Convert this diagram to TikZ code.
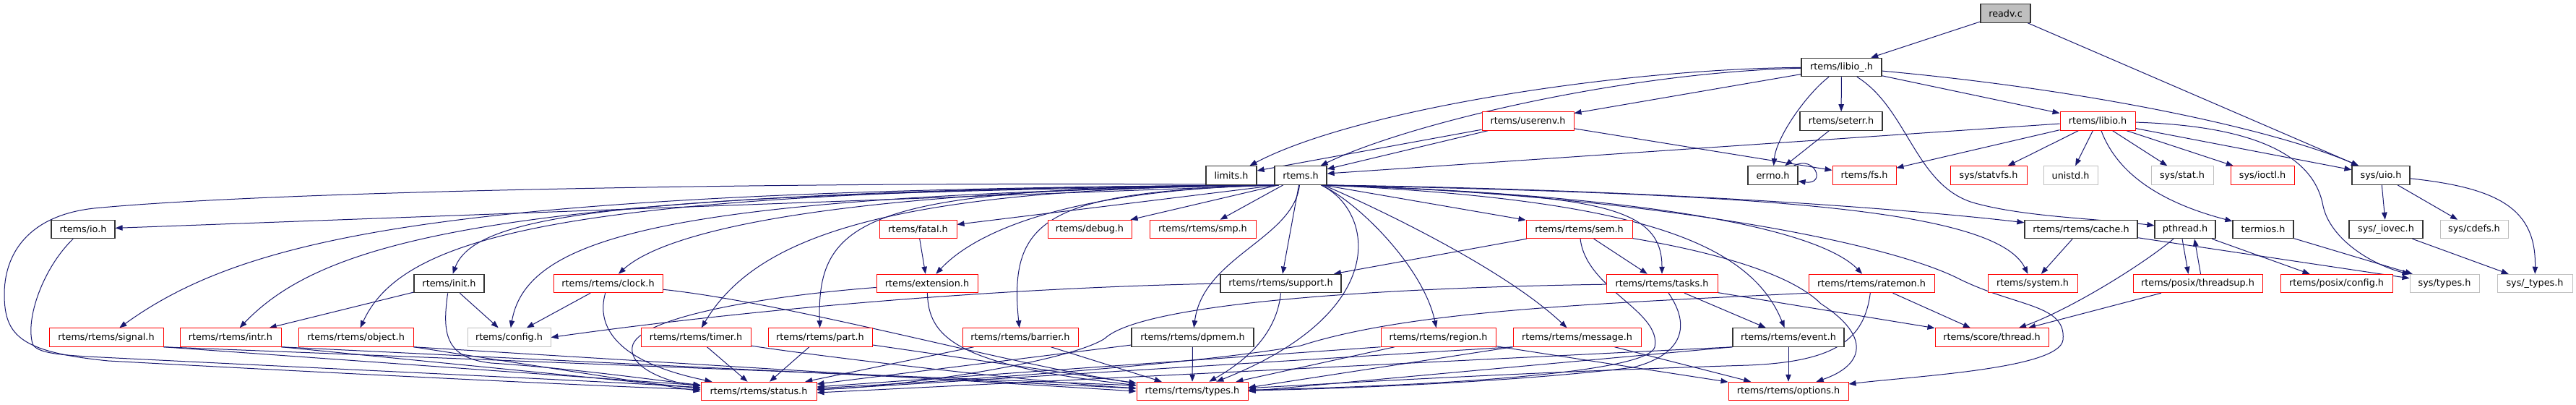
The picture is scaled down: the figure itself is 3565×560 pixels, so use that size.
\documentclass[tikz,border=0pt]{standalone}
\usepackage{fontspec}
\setmainfont{DejaVu Sans}
\usetikzlibrary{arrows.meta,calc}
\pgfdeclarelayer{bg}
\pgfsetlayers{bg,main}
\definecolor{midblue}{RGB}{25,25,112}
\tikzset{
  box/.style={rectangle, draw, fill=white, inner sep=0pt, minimum height=19.1pt,
              font=\fontsize{9.6pt}{11pt}\selectfont, text=black, line width=0.75pt},
  bk/.style={box, draw=black!80, line width=0.9pt},
  rd/.style={box, draw=red},
  gy/.style={box, draw=black!25},
  wd/.style={minimum width=#1*0.75pt},
  dep/.style={draw=midblue, line width=0.75pt, -{Triangle[length=7.5pt,width=5.6pt]}, fill=none},
}
\begin{document}
\begin{tikzpicture}[x=0.75pt, y=-0.75pt]
\useasboundingbox (0,0) rectangle (3565,560);
% row 0-2
\node[bk, fill=black!25, wd=69] (readv) at (2775.5,18.5) {readv.c};
\node[bk, wd=111] (libioU) at (2548.5,93) {rtems/libio\_.h};
\node[rd, wd=127] (userenv) at (2114.5,167.5) {rtems/userenv.h};
\node[bk, wd=114] (seterr) at (2548,167.5) {rtems/seterr.h};
\node[rd, wd=104] (libio) at (2903,167.5) {rtems/libio.h};
% row 3
\node[bk, wd=70] (limits) at (1704,242.5) {limits.h};
\node[bk, wd=72] (rtems) at (1800,242.5) {rtems.h};
\node[bk, wd=69] (errno) at (2453.5,242.5) {errno.h};
\node[rd, wd=88] (fs) at (2580,242.5) {rtems/fs.h};
\node[rd, wd=106] (statvfs) at (2752,242.5) {sys/statvfs.h};
\node[gy, wd=75] (unistd) at (2865.5,242.5) {unistd.h};
\node[gy, wd=86] (stat) at (3020,242.5) {sys/stat.h};
\node[rd, wd=88] (ioctl) at (3131,242.5) {sys/ioctl.h};
\node[bk, wd=80] (uio) at (3295,242.5) {sys/uio.h};
% row 4
\node[bk, wd=88] (io) at (115,317) {rtems/io.h};
\node[rd, wd=107] (fatal) at (1270.5,317) {rtems/fatal.h};
\node[rd, wd=116] (debug) at (1508,317) {rtems/debug.h};
\node[rd, wd=147] (smp) at (1664.5,317) {rtems/rtems/smp.h};
\node[rd, wd=147] (sem) at (2185.5,317) {rtems/rtems/sem.h};
\node[bk, wd=156] (cache) at (2880,317) {rtems/rtems/cache.h};
\node[bk, wd=84] (pthread) at (3024,317) {pthread.h};
\node[bk, wd=84] (termios) at (3132,317) {termios.h};
\node[bk, wd=102] (iovec) at (3302,317) {sys/\_iovec.h};
\node[gy, wd=94] (cdefs) at (3424,317) {sys/cdefs.h};
% row 5
\node[bk, wd=97] (init) at (621.5,392) {rtems/init.h};
\node[rd, wd=151] (clock) at (841.5,392) {rtems/rtems/clock.h};
\node[rd, wd=140] (extension) at (1283,392) {rtems/extension.h};
\node[bk, wd=167] (support) at (1772.5,392) {rtems/rtems/support.h};
\node[rd, wd=154] (tasks) at (2300,392) {rtems/rtems/tasks.h};
\node[rd, wd=174] (ratemon) at (2590,392) {rtems/rtems/ratemon.h};
\node[rd, wd=124] (system) at (2813,392) {rtems/system.h};
\node[rd, wd=179] (threadsup) at (3041.5,392) {rtems/posix/threadsup.h};
\node[rd, wd=155] (pconfig) at (3233.5,392) {rtems/posix/config.h};
\node[gy, wd=96] (systypes) at (3383,392) {sys/types.h};
\node[gy, wd=104] (sysUtypes) at (3508,392) {sys/\_types.h};
% row 6
\node[rd, wd=158] (signal) at (147,466.5) {rtems/rtems/signal.h};
\node[rd, wd=140] (intr) at (319,466.5) {rtems/rtems/intr.h};
\node[rd, wd=159] (object) at (492.5,466.5) {rtems/rtems/object.h};
\node[gy, wd=115] (config) at (704.5,466.5) {rtems/config.h};
\node[rd, wd=152] (timer) at (963,466.5) {rtems/rtems/timer.h};
\node[rd, wd=144] (part) at (1135,466.5) {rtems/rtems/part.h};
\node[rd, wd=160] (barrier) at (1412,466.5) {rtems/rtems/barrier.h};
\node[bk, wd=169] (dpmem) at (1650.5,466.5) {rtems/rtems/dpmem.h};
\node[rd, wd=159] (region) at (1990.5,466.5) {rtems/rtems/region.h};
\node[rd, wd=177] (message) at (2182.5,466.5) {rtems/rtems/message.h};
\node[bk, wd=154] (event) at (2475,466.5) {rtems/rtems/event.h};
\node[rd, wd=157] (thread) at (2756.5,466.5) {rtems/score/thread.h};
% row 7
\node[rd, wd=160] (status) at (1050,541) {rtems/rtems/status.h};
\node[rd, wd=154] (types) at (1650,541) {rtems/rtems/types.h};
\node[rd, wd=166] (options) at (2475,541) {rtems/rtems/options.h};

\coordinate (rsw) at ($(rtems.south west)+(6,0)$);
\coordinate (rse) at ($(rtems.south east)+(-6,0)$);

\begin{pgfonlayer}{bg}
\fill[white] (0,0) rectangle (3565,560);
% readv.c
\draw[dep] (readv) -- (libioU);
\draw[dep] (readv) -- (uio);
% rtems/libio_.h
\draw[dep] (libioU) .. controls (2250,95) and (1880,150) .. (limits);
\draw[dep] (libioU) .. controls (2250,100) and (1950,170) .. (rtems);
\draw[dep] (libioU) -- (userenv);
\draw[dep] (libioU) .. controls (2500,130) and (2458,190) .. (errno);
\draw[dep] (libioU) -- (seterr);
\draw[dep] (libioU) .. controls (2640,150) and (2650,255) .. (2730,280) .. controls (2800,300) and (2900,302) .. (pthread);
\draw[dep] (libioU) -- (libio);
\draw[dep] (libioU) .. controls (2900,125) and (3150,180) .. (uio);
% rtems/userenv.h
\draw[dep] (userenv) -- (limits);
\draw[dep] (userenv) -- (rtems);
\draw[dep] (userenv) -- (fs);
% rtems/seterr.h, errno.h
\draw[dep] (seterr) -- (errno);
\draw[dep] ($(errno.north east)+(-6,0)$) .. controls (2512,214) and (2528,256) .. ($(errno.east)+(0,8)$);
% rtems/libio.h
\draw[dep] (libio) -- (rtems);
\draw[dep] (libio) -- (fs);
\draw[dep] (libio) -- (statvfs);
\draw[dep] (libio) -- (unistd);
\draw[dep] (libio) -- (stat);
\draw[dep] (libio) -- (ioctl);
\draw[dep] (libio) -- (uio);
\draw[dep] (libio) .. controls (2930,240) and (2990,280) .. (termios);
\draw[dep] (libio) .. controls (3150,175) and (3205,230) .. (3215,285) .. controls (3225,330) and (3280,365) .. (systypes);
% sys/uio.h and friends
\draw[dep] (uio) -- (iovec);
\draw[dep] (uio) -- (cdefs);
\draw[dep] (uio) .. controls (3460,260) and (3510,290) .. (sysUtypes);
\draw[dep] (iovec) -- (sysUtypes);
\draw[dep] (termios) -- (systypes);
\draw[dep] (cache) -- (system);
\draw[dep] (cache) -- (systypes);
\draw[dep] ($(pthread.south)+(-4,0)$) -- ($(threadsup.north)+(-13,0)$);
\draw[dep] ($(threadsup.north)+(4,0)$) -- ($(pthread.south)+(13,0)$);
\draw[dep] (pthread) -- (pconfig);
\draw[dep] (pthread) .. controls (2960,370) and (2860,430) .. (thread);
\draw[dep] (threadsup) -- (thread);
% rtems.h
\draw[dep] (rsw) -- (io);
\draw[dep] (rsw) .. controls (1200,250) and (400,262) .. (130,288) .. controls (40,298) and (5,350) .. (6,410) .. controls (7,465) and (30,487) .. (150,499) .. controls (500,518) and (850,535) .. (status);
\draw[dep] (rsw) .. controls (650,262) and (350,320) .. (signal);
\draw[dep] (rsw) .. controls (700,262) and (450,330) .. (intr);
\draw[dep] (rsw) .. controls (800,262) and (560,320) .. (object);
\draw[dep] (rsw) .. controls (900,268) and (660,290) .. (init);
\draw[dep] (rsw) .. controls (950,270) and (730,320) .. (config);
\draw[dep] (rsw) .. controls (1150,262) and (920,320) .. (clock);
\draw[dep] (rsw) .. controls (1250,260) and (1050,320) .. (timer);
\draw[dep] (rsw) .. controls (1200,258) and (1130,300) .. (part);
\draw[dep] (rsw) -- (fatal);
\draw[dep] (rsw) .. controls (1480,262) and (1350,320) .. (extension);
\draw[dep] (rsw) .. controls (1450,265) and (1395,300) .. (barrier);
\draw[dep] (rsw) -- (debug);
\draw[dep] (rtems) -- (smp);
\draw[dep] (rtems) .. controls (1790,330) and (1665,355) .. (dpmem);
\draw[dep] (rtems) -- (support);
\draw[dep] (rtems) .. controls (1900,290) and (1930,430) .. (types);
\draw[dep] (rtems) .. controls (1880,280) and (1970,370) .. (region);
\draw[dep] (rtems) .. controls (1900,285) and (2080,370) .. (message);
\draw[dep] (rse) -- (sem);
\draw[dep] (rse) .. controls (2200,270) and (2300,280) .. (tasks);
\draw[dep] (rse) .. controls (2250,275) and (2420,330) .. (event);
\draw[dep] (rse) .. controls (2300,270) and (2520,320) .. (ratemon);
\draw[dep] (rse) .. controls (2300,262) and (2650,290) .. (cache);
\draw[dep] (rse) .. controls (2400,268) and (2760,285) .. (system);
\draw[dep] (rse) .. controls (2250,268) and (2600,330) .. (2710,385) .. controls (2790,425) and (2860,420) .. (2855,470) .. controls (2850,510) and (2650,520) .. (options);
% second level
\draw[dep] (io) .. controls (60,370) and (35,440) .. (45,475) .. controls (50,488) and (80,491) .. (140,494) .. controls (500,512) and (850,528) .. (status);
\draw[dep] (fatal) -- (extension);
\draw[dep] (init) -- (intr);
\draw[dep] (init) -- (config);
\draw[dep] (init) .. controls (612,460) and (615,495) .. (680,502) .. controls (800,510) and (900,525) .. (status);
\draw[dep] (clock) -- (config);
\draw[dep] (clock) .. controls (825,450) and (850,500) .. (status);
\draw[dep] (clock) .. controls (1100,420) and (1400,505) .. (types);
\draw[dep] (signal.south east) -- ($(status.west)+(0,-8)$);
\draw[dep] (signal.south east) -- ($(types.west)+(0,-8)$);
\draw[dep] (intr.south east) -- ($(status.west)+(0,-4)$);
\draw[dep] (intr.south east) -- ($(types.west)+(0,-4)$);
\draw[dep] (object.south east) -- (status.west);
\draw[dep] (object.south east) -- (types.west);
\draw[dep] (timer) -- (status);
\draw[dep] (timer) .. controls (1150,495) and (1450,530) .. (types);
\draw[dep] (part) -- (status);
\draw[dep] (part) -- (types);
\draw[dep] (barrier) -- (status);
\draw[dep] (barrier) -- (types);
\draw[dep] (dpmem) -- (status);
\draw[dep] (dpmem) -- (types);
\draw[dep] (extension) .. controls (1050,410) and (880,440) .. (875,480) .. controls (870,510) and (930,530) .. (status);
\draw[dep] (extension) .. controls (1285,465) and (1320,505) .. (types);
\draw[dep] (support.west) .. controls (1300,400) and (950,440) .. (config.east);
\draw[dep] (support.south) .. controls (1768,450) and (1740,490) .. (types);
\draw[dep] (sem) -- (support);
\draw[dep] (sem) -- (tasks);
\draw[dep] (sem) .. controls (2195,400) and (2300,430) .. (2290,480) .. controls (2280,515) and (2000,533) .. (types);
\draw[dep] (sem) .. controls (2380,350) and (2480,380) .. (2520,420) .. controls (2590,465) and (2580,505) .. (options);
\draw[dep] (tasks) -- (event);
\draw[dep] (tasks) -- (thread);
\draw[dep] (tasks) .. controls (1900,398) and (1580,420) .. (1529,468) .. controls (1480,500) and (1250,535) .. (status);
\draw[dep] (tasks) .. controls (2340,450) and (2330,490) .. (2260,508) .. controls (2100,528) and (1850,538) .. (types);
\draw[dep] (ratemon) -- (thread);
\draw[dep] (ratemon.south west) .. controls (2200,420) and (1950,430) .. (1800,478) .. controls (1650,505) and (1300,528) .. (status);
\draw[dep] (ratemon) .. controls (2580,470) and (2540,500) .. (2420,505) .. controls (2100,515) and (1850,530) .. (types);
\draw[dep] (event) -- (options);
\draw[dep] (event.south west) -- ($(status.east)+(0,2)$);
\draw[dep] (event.south west) -- (types.east);
\draw[dep] (region.south west) -- ($(status.east)+(0,-6)$);
\draw[dep] (region) -- (types);
\draw[dep] (region) -- (options);
\draw[dep] (message.south west) -- ($(status.east)+(0,-2)$);
\draw[dep] (message.south west) -- ($(types.east)+(0,-5)$);
\draw[dep] (message) -- (options);
\end{pgfonlayer}
\end{tikzpicture}
\end{document}
